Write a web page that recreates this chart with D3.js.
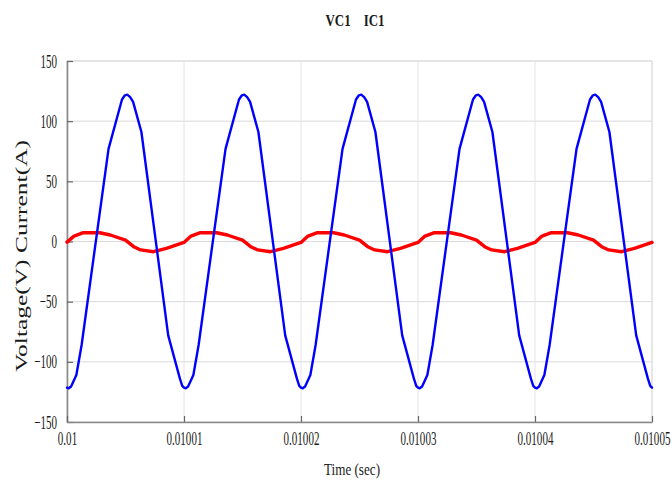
<!DOCTYPE html>
<html>
<head>
<meta charset="utf-8">
<script src="https://cdn.jsdelivr.net/npm/d3@7/dist/d3.min.js"></script>
<style>
  body { margin: 0; background: #fff; }
  text { font-family: "Liberation Serif", "Times New Roman", serif; fill: #1a1a1a; }
</style>
</head>
<body>
<svg id="chart" width="672" height="480"></svg>
<script>
// Capacitor voltage VC1 (V) sampled over five switching periods
const vcTime = [
  0.01000000, 0.01000015, 0.01000035, 0.01000080, 0.01000125, 0.01000355, 0.01000470, 0.01000495,
  0.01000515, 0.01000540, 0.01000565, 0.01000636, 0.01000865, 0.01000965, 0.01000985,
  0.01001000, 0.01001015, 0.01001035, 0.01001080, 0.01001125, 0.01001355, 0.01001470, 0.01001495,
  0.01001515, 0.01001540, 0.01001565, 0.01001636, 0.01001865, 0.01001965, 0.01001985,
  0.01002000, 0.01002015, 0.01002035, 0.01002080, 0.01002125, 0.01002355, 0.01002470, 0.01002495,
  0.01002515, 0.01002540, 0.01002565, 0.01002636, 0.01002865, 0.01002965, 0.01002985,
  0.01003000, 0.01003015, 0.01003035, 0.01003080, 0.01003125, 0.01003355, 0.01003470, 0.01003495,
  0.01003515, 0.01003540, 0.01003565, 0.01003636, 0.01003865, 0.01003965, 0.01003985,
  0.01004000, 0.01004015, 0.01004035, 0.01004080, 0.01004125, 0.01004355, 0.01004470, 0.01004495,
  0.01004515, 0.01004540, 0.01004565, 0.01004636, 0.01004865, 0.01004965, 0.01004985,
  0.01005000
];
const vc1 = [
  -121.5, -122, -120.5, -111, -86, 77, 118, 121.5, 122, 120, 116, 91, -78, -114, -120,
  -121.5, -122, -120.5, -111, -86, 77, 118, 121.5, 122, 120, 116, 91, -78, -114, -120,
  -121.5, -122, -120.5, -111, -86, 77, 118, 121.5, 122, 120, 116, 91, -78, -114, -120,
  -121.5, -122, -120.5, -111, -86, 77, 118, 121.5, 122, 120, 116, 91, -78, -114, -120,
  -121.5, -122, -120.5, -111, -86, 77, 118, 121.5, 122, 120, 116, 91, -78, -114, -120,
  -121.5
];

// Capacitor current IC1 (A)
const icTime = [
  0.01000000, 0.01000060, 0.01000140, 0.01000280, 0.01000370,
  0.01000500, 0.01000570, 0.01000630, 0.01000740, 0.01000850,
  0.01001000, 0.01001060, 0.01001140, 0.01001280, 0.01001370,
  0.01001500, 0.01001570, 0.01001630, 0.01001740, 0.01001850,
  0.01002000, 0.01002060, 0.01002140, 0.01002280, 0.01002370,
  0.01002500, 0.01002570, 0.01002630, 0.01002740, 0.01002850,
  0.01003000, 0.01003060, 0.01003140, 0.01003280, 0.01003370,
  0.01003500, 0.01003570, 0.01003630, 0.01003740, 0.01003850,
  0.01004000, 0.01004060, 0.01004140, 0.01004280, 0.01004370,
  0.01004500, 0.01004570, 0.01004630, 0.01004740, 0.01004850,
  0.01005000
];
const ic1 = [
  -0.5, 4.5, 7.3, 7.3, 5.4, 1.2, -4.3, -7, -8.5, -5.7,
  -0.8, 4.5, 7.3, 7.3, 5.4, 1.2, -4.3, -7, -8.5, -5.7,
  -0.8, 4.5, 7.3, 7.3, 5.4, 1.2, -4.3, -7, -8.5, -5.7,
  -0.8, 4.5, 7.3, 7.3, 5.4, 1.2, -4.3, -7, -8.5, -5.7,
  -0.8, 4.5, 7.3, 7.3, 5.4, 1.2, -4.3, -7, -8.5, -5.7,
  -0.8
];

const xTicks = [0.01, 0.01001, 0.01002, 0.01003, 0.01004, 0.01005];
const xTickLabels = ["0.01", "0.01001", "0.01002", "0.01003", "0.01004", "0.01005"];
const yTicks = [-150, -100, -50, 0, 50, 100, 150];

const svg = d3.select("#chart");
const plotLeft = 67, plotRight = 652, plotTop = 61, plotBottom = 422;
const squeeze = 0.58; // horizontal compression of the narrow serif labels

const x = d3.scaleLinear().domain([0.01, 0.01005]).range([plotLeft, plotRight]);
const y = d3.scaleLinear().domain([-150, 150]).range([plotBottom, plotTop]);

// Grid
svg.append("g").selectAll("line").data(yTicks).join("line")
  .attr("x1", plotLeft).attr("x2", plotRight)
  .attr("y1", d => y(d)).attr("y2", d => y(d))
  .attr("stroke", "#dadada").attr("stroke-width", 1);
svg.append("g").selectAll("line").data(xTicks).join("line")
  .attr("x1", d => x(d)).attr("x2", d => x(d))
  .attr("y1", plotTop).attr("y2", plotBottom)
  .attr("stroke", "#e4e4e4").attr("stroke-width", 1);
svg.append("rect")
  .attr("x", plotLeft).attr("y", plotTop)
  .attr("width", plotRight - plotLeft).attr("height", plotBottom - plotTop)
  .attr("fill", "none").attr("stroke", "#dcdcdc");

// Axes
const yAxis = svg.append("g").attr("transform", `translate(${plotLeft},0)`)
  .call(d3.axisLeft(y).tickValues(yTicks).tickFormat(d3.format("d"))
    .tickSizeInner(-6).tickSizeOuter(0).tickPadding(10));
const xAxis = svg.append("g").attr("transform", `translate(0,${plotBottom})`)
  .call(d3.axisBottom(x).tickValues(xTicks).tickFormat((d, i) => xTickLabels[i])
    .tickSizeInner(-6).tickSizeOuter(0).tickPadding(10));

[yAxis, xAxis].forEach(g => {
  g.select(".domain").attr("stroke", "#8a8a8a").attr("stroke-width", 1.6);
  g.selectAll(".tick line").attr("stroke", "#666").attr("stroke-width", 1.2);
  g.selectAll(".tick text").attr("fill", "#1a1a1a").attr("font-size", 19)
    .attr("font-family", '"Liberation Serif", serif');
});
yAxis.selectAll(".tick text")
  .attr("x", -10 / squeeze)
  .attr("transform", `scale(${squeeze},1)`);
xAxis.selectAll(".tick text")
  .attr("transform", `scale(${squeeze},1)`)
  .attr("dy", "0.71em").attr("y", 10);

// Series: current first, voltage drawn on top
const lineOf = (ts, vs) => d3.line().x((d, i) => x(ts[i])).y(d => y(d))(vs);
svg.append("path").attr("d", lineOf(icTime, ic1))
  .attr("fill", "none").attr("stroke", "#ff0000").attr("stroke-width", 3.4)
  .attr("stroke-linejoin", "round").attr("stroke-linecap", "round");
svg.append("path").attr("d", lineOf(vcTime, vc1))
  .attr("fill", "none").attr("stroke", "#0000ff").attr("stroke-width", 2.4)
  .attr("stroke-linejoin", "round").attr("stroke-linecap", "round");

// Titles
svg.append("text").attr("x", 355).attr("y", 26).attr("text-anchor", "middle")
  .attr("font-size", 17).attr("font-weight", "bold").style("white-space", "pre")
  .attr("textLength", 59).attr("lengthAdjust", "spacingAndGlyphs")
  .text("VC1    IC1");
svg.append("text").attr("x", 352).attr("y", 475).attr("text-anchor", "middle")
  .attr("font-size", 17).attr("textLength", 56).attr("lengthAdjust", "spacingAndGlyphs")
  .text("Time (sec)");
svg.append("text").attr("transform", "translate(27,256) rotate(-90)").attr("text-anchor", "middle")
  .attr("font-size", 17).attr("textLength", 232).attr("lengthAdjust", "spacingAndGlyphs")
  .text("Voltage(V) Current(A)");
</script>
</body>
</html>
